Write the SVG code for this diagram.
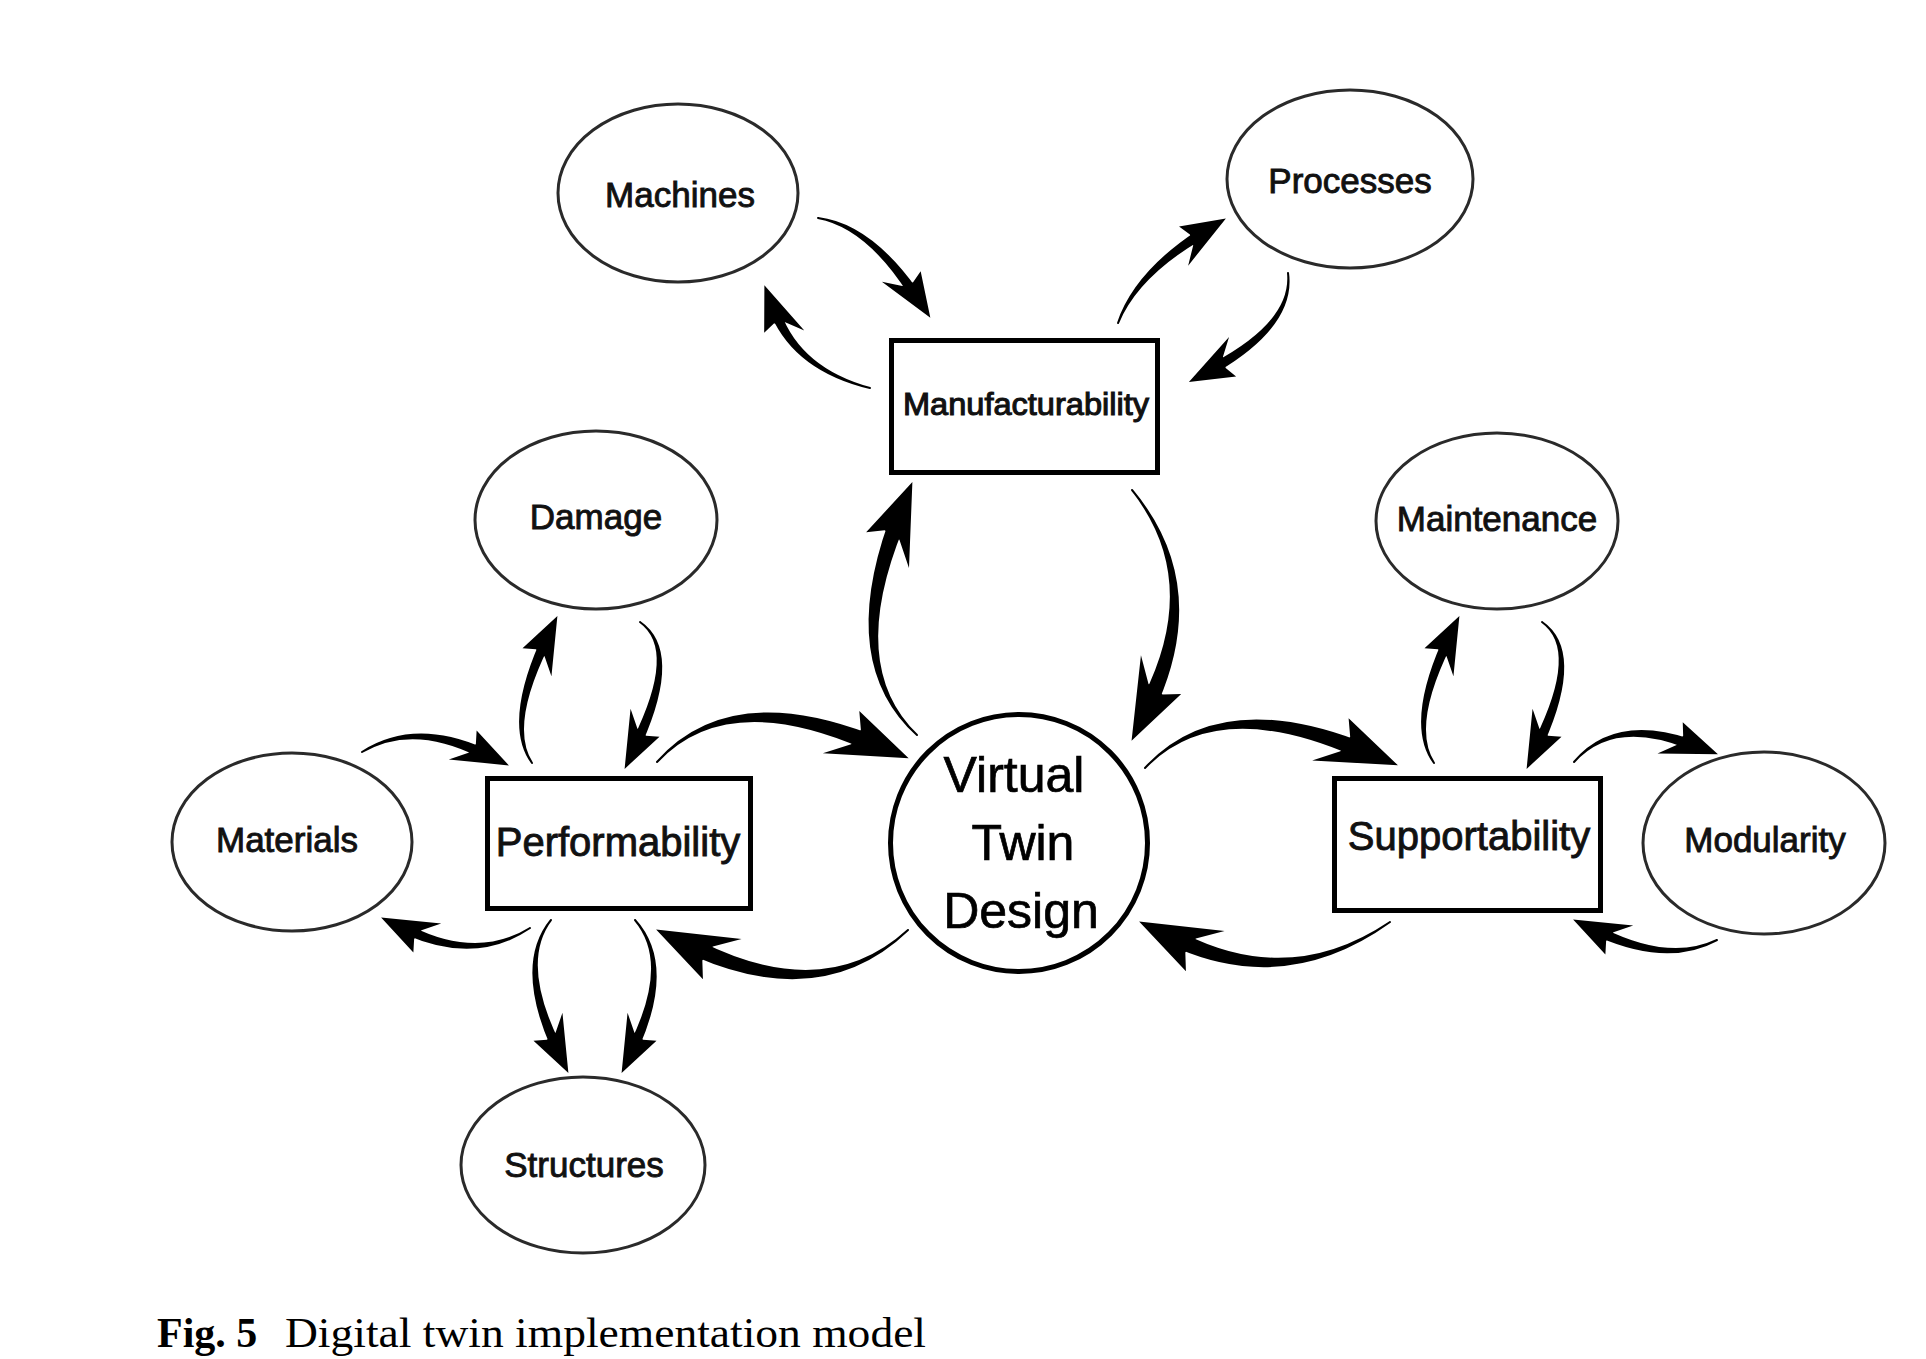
<svg xmlns="http://www.w3.org/2000/svg" xmlns:xlink="http://www.w3.org/1999/xlink" width="1926" height="1359" viewBox="0 0 1926 1359">
<style>
.oval{fill:#fff;stroke:#2a2a2a;stroke-width:3}
.box{fill:#fff;stroke:#000;stroke-width:5}
.lbl{font-family:"Liberation Sans",Arial,sans-serif;font-size:35px;fill:#111;stroke:#111;stroke-width:0.9;text-anchor:middle}
.big{font-size:40px}
.vt{font-family:"Liberation Sans",Arial,sans-serif;font-size:50px;fill:#000;stroke:#000;stroke-width:0.7;text-anchor:middle}
.conn path{fill:#000;stroke:#000;stroke-width:2;stroke-linejoin:round}
.conn use{fill:#000}
.cap{font-family:"Liberation Serif","Times New Roman",serif;font-size:42px;fill:#000}
</style>
<defs>
<path id="hs" d="M31,0 L-13,-18 L-8,-5.5 L-11,5.5 L-26,20 Z"/>
<path id="hl" d="M46,0 L-17.4,-25.2 L-9,-8.6 L-12.6,8.6 L-35.4,27.6 Z"/>
</defs>
<rect width="1926" height="1359" fill="#fff"/>

<g id="machines"><ellipse class="oval" cx="678" cy="193" rx="120" ry="89"/><text class="lbl" x="680" y="207">Machines</text></g>
<g id="processes"><ellipse class="oval" cx="1350" cy="179" rx="123" ry="89"/><text class="lbl" x="1350" y="193">Processes</text></g>
<g id="manufacturability"><rect class="box" x="891.5" y="340.5" width="266" height="132"/><text class="lbl" x="1026" y="415" style="font-size:32px;stroke-width:1.1" textLength="246" lengthAdjust="spacingAndGlyphs">Manufacturability</text></g>
<g id="damage"><ellipse class="oval" cx="596" cy="520" rx="121" ry="89"/><text class="lbl" x="596" y="529">Damage</text></g>
<g id="materials"><ellipse class="oval" cx="292" cy="842" rx="120" ry="89"/><text class="lbl" x="287" y="852">Materials</text></g>
<g id="performability"><rect class="box" x="487.5" y="778.5" width="263" height="130"/><text class="lbl big" x="618" y="856">Performability</text></g>
<g id="virtual-twin-design"><circle cx="1019" cy="843" r="128.5" fill="#fff" stroke="#000" stroke-width="5"/><text class="vt" x="1014" y="792">Virtual</text><text class="vt" x="1023" y="860">Twin</text><text class="vt" x="1021" y="928">Design</text></g>
<g id="supportability"><rect class="box" x="1334.5" y="778.5" width="266" height="132"/><text class="lbl big" x="1469" y="850">Supportability</text></g>
<g id="maintenance"><ellipse class="oval" cx="1497" cy="521" rx="121" ry="88"/><text class="lbl" x="1497" y="531">Maintenance</text></g>
<g id="modularity"><ellipse class="oval" cx="1764" cy="843" rx="121" ry="91"/><text class="lbl" x="1765" y="852">Modularity</text></g>
<g id="structures"><ellipse class="oval" cx="583" cy="1165" rx="122" ry="88"/><text class="lbl" x="584" y="1177">Structures</text></g>

<g id="connectors" class="conn">
<g id="e1"><path d="M818,218 Q866.64,226.82 909.68,294.24 L916.32,289.76 Q869.96,224.58 818,218 Z"/><use xlink:href="#hs" transform="translate(913,292) rotate(56)"/></g>
<g id="e2"><path d="M870,388 Q800.35,368.85 779.71,312.5 L772.29,315.5 Q796.65,370.35 870,388 Z"/><use xlink:href="#hs" transform="translate(776,314) rotate(-112)"/></g>
<g id="e3"><path d="M1118,323 Q1137.06,276.3 1201.72,238.29 L1197.48,231.51 Q1134.94,272.9 1118,323 Z"/><use xlink:href="#hs" transform="translate(1199.6,234.9) rotate(-32)"/></g>
<g id="e4"><path d="M1288,273 Q1293.03,321.25 1214.06,363.5 L1217.94,370.5 Q1294.97,324.75 1288,273 Z"/><use xlink:href="#hs" transform="translate(1216,367) rotate(151)"/></g>
<g id="e5"><path d="M917,735 Q845.47,666.35 902.44,527.51 L889.36,522.49 Q838.93,663.85 917,735 Z"/><use xlink:href="#hl" transform="translate(895.9,525) rotate(-69)"/></g>
<g id="e6"><path d="M1132,490 Q1202.83,579.52 1144.66,696.04 L1157.34,701.96 Q1209.17,582.48 1132,490 Z"/><use xlink:href="#hl" transform="translate(1151,699) rotate(115)"/></g>
<g id="e7"><path d="M657,762 Q725.64,688 863.38,747.49 L868.63,734.51 Q728.26,681.5 657,762 Z"/><use xlink:href="#hl" transform="translate(866,741) rotate(22)"/></g>
<g id="e8"><path d="M908,930 Q826.08,1005.03 700.76,942.66 L694.84,955.34 Q823.12,1011.37 908,930 Z"/><use xlink:href="#hl" transform="translate(697.8,949) rotate(205)"/></g>
<g id="e9"><path d="M1145,768 Q1214.99,695.09 1352.68,754.59 L1357.93,741.61 Q1217.61,688.61 1145,768 Z"/><use xlink:href="#hl" transform="translate(1355.3,748.1) rotate(22)"/></g>
<g id="e10"><path d="M1390,922 Q1290.98,988.63 1183.76,934.66 L1177.84,947.34 Q1288.02,994.97 1390,922 Z"/><use xlink:href="#hl" transform="translate(1180.8,941) rotate(205)"/></g>
<g id="e11"><path d="M532,763 Q508.01,726.55 547.92,645.89 L540.68,642.51 Q504.39,724.85 532,763 Z"/><use xlink:href="#hs" transform="translate(544.3,644.2) rotate(-65)"/></g>
<g id="e12"><path d="M640,622 Q678.19,649.35 634.08,739.11 L641.32,742.49 Q681.81,651.05 640,622 Z"/><use xlink:href="#hs" transform="translate(637.7,740.8) rotate(115)"/></g>
<g id="e13"><path d="M362,752 Q412,722.41 479.11,755.92 L482.49,748.68 Q413.7,718.79 362,752 Z"/><use xlink:href="#hs" transform="translate(480.8,752.3) rotate(25)"/></g>
<g id="e14"><path d="M530,928 Q478.05,960.59 410.89,927.08 L407.51,934.32 Q476.35,964.21 530,928 Z"/><use xlink:href="#hs" transform="translate(409.2,930.7) rotate(205)"/></g>
<g id="e15"><path d="M551,920 Q515.39,964.15 551.68,1046.49 L558.92,1043.11 Q519.01,962.45 551,920 Z"/><use xlink:href="#hs" transform="translate(555.3,1044.8) rotate(65) scale(1,-1)"/></g>
<g id="e16"><path d="M635,920 Q670.99,962.45 631.08,1043.11 L638.32,1046.49 Q674.61,964.15 635,920 Z"/><use xlink:href="#hs" transform="translate(634.7,1044.8) rotate(115)"/></g>
<g id="e17"><path d="M1434,763 Q1410.01,726.55 1449.92,645.89 L1442.68,642.51 Q1406.39,724.85 1434,763 Z"/><use xlink:href="#hs" transform="translate(1446.3,644.2) rotate(-65)"/></g>
<g id="e18"><path d="M1542,622 Q1580.19,649.35 1536.08,739.11 L1543.32,742.49 Q1583.81,651.05 1542,622 Z"/><use xlink:href="#hs" transform="translate(1539.7,740.8) rotate(115)"/></g>
<g id="e19"><path d="M1574,762 Q1612.92,718.18 1687.43,747.46 L1690.17,739.94 Q1614.28,714.42 1574,762 Z"/><use xlink:href="#hs" transform="translate(1688.8,743.7) rotate(20)"/></g>
<g id="e20"><path d="M1717,940 Q1670,962.59 1602.89,929.08 L1599.51,936.32 Q1668.3,966.21 1717,940 Z"/><use xlink:href="#hs" transform="translate(1601.2,932.7) rotate(205)"/></g>
</g>

<g id="caption"><text class="cap" x="157" y="1347" font-weight="bold">Fig. 5</text><text class="cap" x="285" y="1347" textLength="641" lengthAdjust="spacingAndGlyphs">Digital twin implementation model</text></g>
</svg>
